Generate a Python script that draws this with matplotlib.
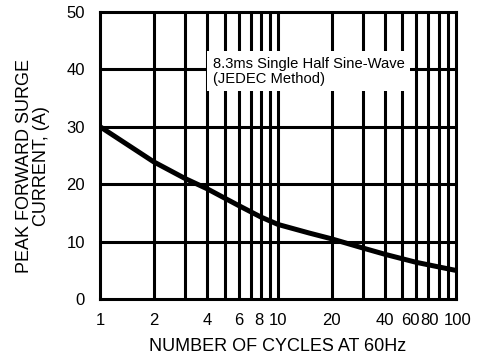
import matplotlib.pyplot as plt
import matplotlib.transforms as mtransforms
from matplotlib.ticker import NullLocator

cycles = [1, 2, 3, 4, 5, 6, 8, 10, 15, 20, 30, 40, 60, 100]
amps = [30, 23.9, 21.0, 19.2, 17.6, 16.3, 14.3, 13.0, 11.5, 10.5, 8.9, 7.8, 6.4, 5.0]

xticks = [1, 2, 4, 6, 8, 10, 20, 40, 60, 80, 100]
xgrid = [2, 3, 4, 5, 6, 7, 8, 9, 10, 20, 30, 40, 50, 60, 70, 80, 90]
yticks = [0, 10, 20, 30, 40, 50]

# label nudges in pixels (labels in the original are squeezed at the right end)
xshift = [0, 0, 0, 0, -2, 0, 0, 0, -6, -9, 2]

plt.rcParams['font.family'] = ['Liberation Sans', 'DejaVu Sans']

fig = plt.figure(figsize=(4.84, 3.6), dpi=100)
ax = fig.add_axes([0.207, 0.169, 0.735, 0.798])

for x in xgrid:
    ax.axvline(x, color='black', lw=2.2, zorder=1)
for y in yticks[1:-1]:
    ax.axhline(y, color='black', lw=2.2, zorder=1)

ax.plot(cycles, amps, color='black', lw=3.6, solid_capstyle='butt', zorder=3)

ax.set_xscale('log')
ax.set_xlim(1, 100)
ax.set_ylim(0, 50)
ax.xaxis.set_major_locator(NullLocator())
ax.xaxis.set_minor_locator(NullLocator())
ax.set_yticks(yticks)
ax.tick_params(axis='y', length=0, labelsize=12, pad=11)
for s in ax.spines.values():
    s.set_linewidth(2.2)

base = mtransforms.blended_transform_factory(ax.transData, ax.transAxes)
for t, dx in zip(xticks, xshift):
    tr = base + mtransforms.ScaledTranslation(dx / 100, -14 / 100, fig.dpi_scale_trans)
    ax.text(t, 0, str(t), transform=tr, ha='center', va='top', fontsize=12)

ax.text(0.317, 0.794, '8.3ms Single Half Sine-Wave\n(JEDEC Method)', transform=ax.transAxes,
        fontsize=10.6, va='center', ha='left', linespacing=1.1, zorder=4,
        bbox=dict(facecolor='white', edgecolor='none', pad=4))

ax.set_xlabel('NUMBER OF CYCLES AT 60Hz', fontsize=13)
ax.xaxis.set_label_coords(0.5, -0.135)
ax.xaxis.label.set_va('top')
ax.set_ylabel('PEAK FORWARD SURGE\nCURRENT, (A)', fontsize=13, linespacing=1.0)
ax.yaxis.set_label_coords(-0.14, 0.463)

fig.savefig('out.png', dpi=100)
